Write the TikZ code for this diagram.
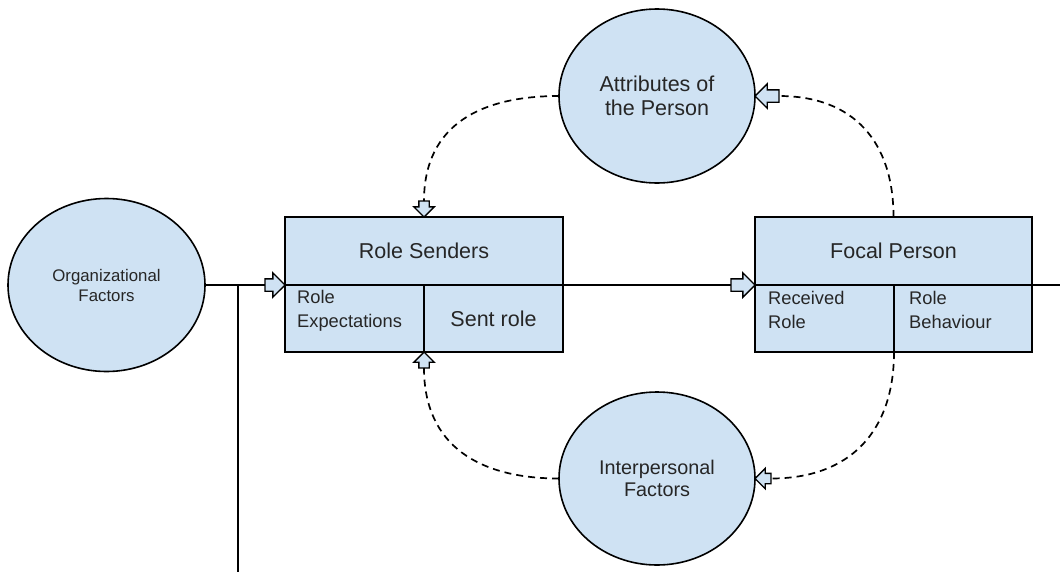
\documentclass[tikz,border=0pt]{standalone}
\usepackage{fontspec}
\setmainfont{Liberation Sans}
\usepackage{tikz}
\tikzset{>=latex}
\usetikzlibrary{shapes}
\usetikzlibrary{calc}
\definecolor{highlight}{RGB}{207,226,243}
\definecolor{inkgray}{RGB}{38,38,38}
\tikzset{
    bubble/.style = {ellipse, draw, line width=1.6pt, fill=highlight, text=inkgray, align=center, inner sep=0pt, outer sep=0pt},
    panel/.style = {rectangle, draw, line width=1.6pt, fill=highlight, text=inkgray, inner sep=0pt, outer sep=0pt},
    celltext/.style = {anchor=north west, inner sep=0pt, align=left, text=inkgray, font=\fontsize{18.3}{24}\selectfont},
    blockarrow/.style = {single arrow, draw, line width=1.4pt, fill=highlight, inner sep=5.5pt, outer sep=0pt, minimum height=24pt, minimum width=23pt, single arrow head extend=6pt, anchor=tip},
    smallarrow/.style = {blockarrow, inner sep=4.5pt, minimum height=16pt, minimum width=19pt, single arrow head extend=5pt},
    feedback/.style = {dash pattern=on 7pt off 5pt, line width=1.7pt, looseness=1.15},
    link/.style = {line width=1.7pt}
}

\begin{document}
\begin{tikzpicture}[x=1pt, y=-1pt]
            \useasboundingbox (0,0) rectangle (1060,571);
            \node[bubble, minimum width=197pt, minimum height=173pt, font=\fontsize{16.8}{20}\selectfont] (org) at (106.5,285) {Organizational\\Factors};
            \node[bubble, minimum width=196pt, minimum height=174pt, font=\fontsize{21.5}{24.5}\selectfont] (attr) at (657,96) {Attributes of\\the Person};
            \node[bubble, minimum width=196pt, minimum height=173pt, font=\fontsize{19.8}{22.5}\selectfont] (inter) at (657,478.5) {Interpersonal\\Factors};

            \node[panel, minimum width=278pt, minimum height=68pt, font=\fontsize{21.5}{24}\selectfont] (rsTop) at (424,251) {Role Senders};
            \node[panel, minimum width=139pt, minimum height=67pt, anchor=north west] (rsL) at (rsTop.south west) {};
            \node[panel, minimum width=139pt, minimum height=67pt, anchor=north west, font=\fontsize{21.5}{24}\selectfont] (rsR) at (rsL.north east) {Sent role};
            \node[celltext] (rsLtext) at ([shift={(12,5)}]rsL.north west) {Role\\Expectations};

            \node[panel, minimum width=277pt, minimum height=68pt, font=\fontsize{21.5}{24}\selectfont] (fpTop) at (893.5,251) {Focal Person};
            \node[panel, minimum width=139pt, minimum height=67pt, anchor=north west] (fpL) at (fpTop.south west) {};
            \node[panel, minimum width=138pt, minimum height=67pt, anchor=north west] (fpR) at (fpL.north east) {};
            \node[celltext] (fpLtext) at ([shift={(13,6)}]fpL.north west) {Received\\Role};
            \node[celltext] (fpRtext) at ([shift={(15,6)}]fpR.north west) {Role\\Behaviour};

            \node[blockarrow, minimum height=20pt] (toSenders) at (rsTop.south west) {};
            \node[blockarrow] (toFocal) at (fpTop.south west) {};
            \node[blockarrow, shape border rotate=180] (toAttr) at (attr.east) {};
            \node[smallarrow, shape border rotate=270] (fromAttr) at (rsTop.north) {};
            \node[smallarrow, shape border rotate=90] (fromInter) at (rsL.south east) {};
            \node[smallarrow, shape border rotate=180] (toInter) at (inter.east) {};

            \coordinate (drop) at (238,285);
            \coordinate (dropEnd) at (238,575);
            \coordinate (exit) at (1064,285);
            \draw[link] (org.east) -- (toSenders.tail);
            \draw[link] (drop) -- (dropEnd);
            \draw[link] (rsTop.south east) -- (toFocal.tail);
            \draw[link] (fpTop.south east) -- (exit);
            \draw[feedback] (attr.west) to[out=180,in=90] (fromAttr.tail);
            \draw[feedback] (fpTop.north) to[out=90,in=0] (toAttr.tail);
            \draw[feedback] (fpL.south east) to[out=270,in=0] (toInter.tail);
            \draw[feedback] (inter.west) to[out=180,in=270] (fromInter.tail);
\end{tikzpicture}
\end{document}
